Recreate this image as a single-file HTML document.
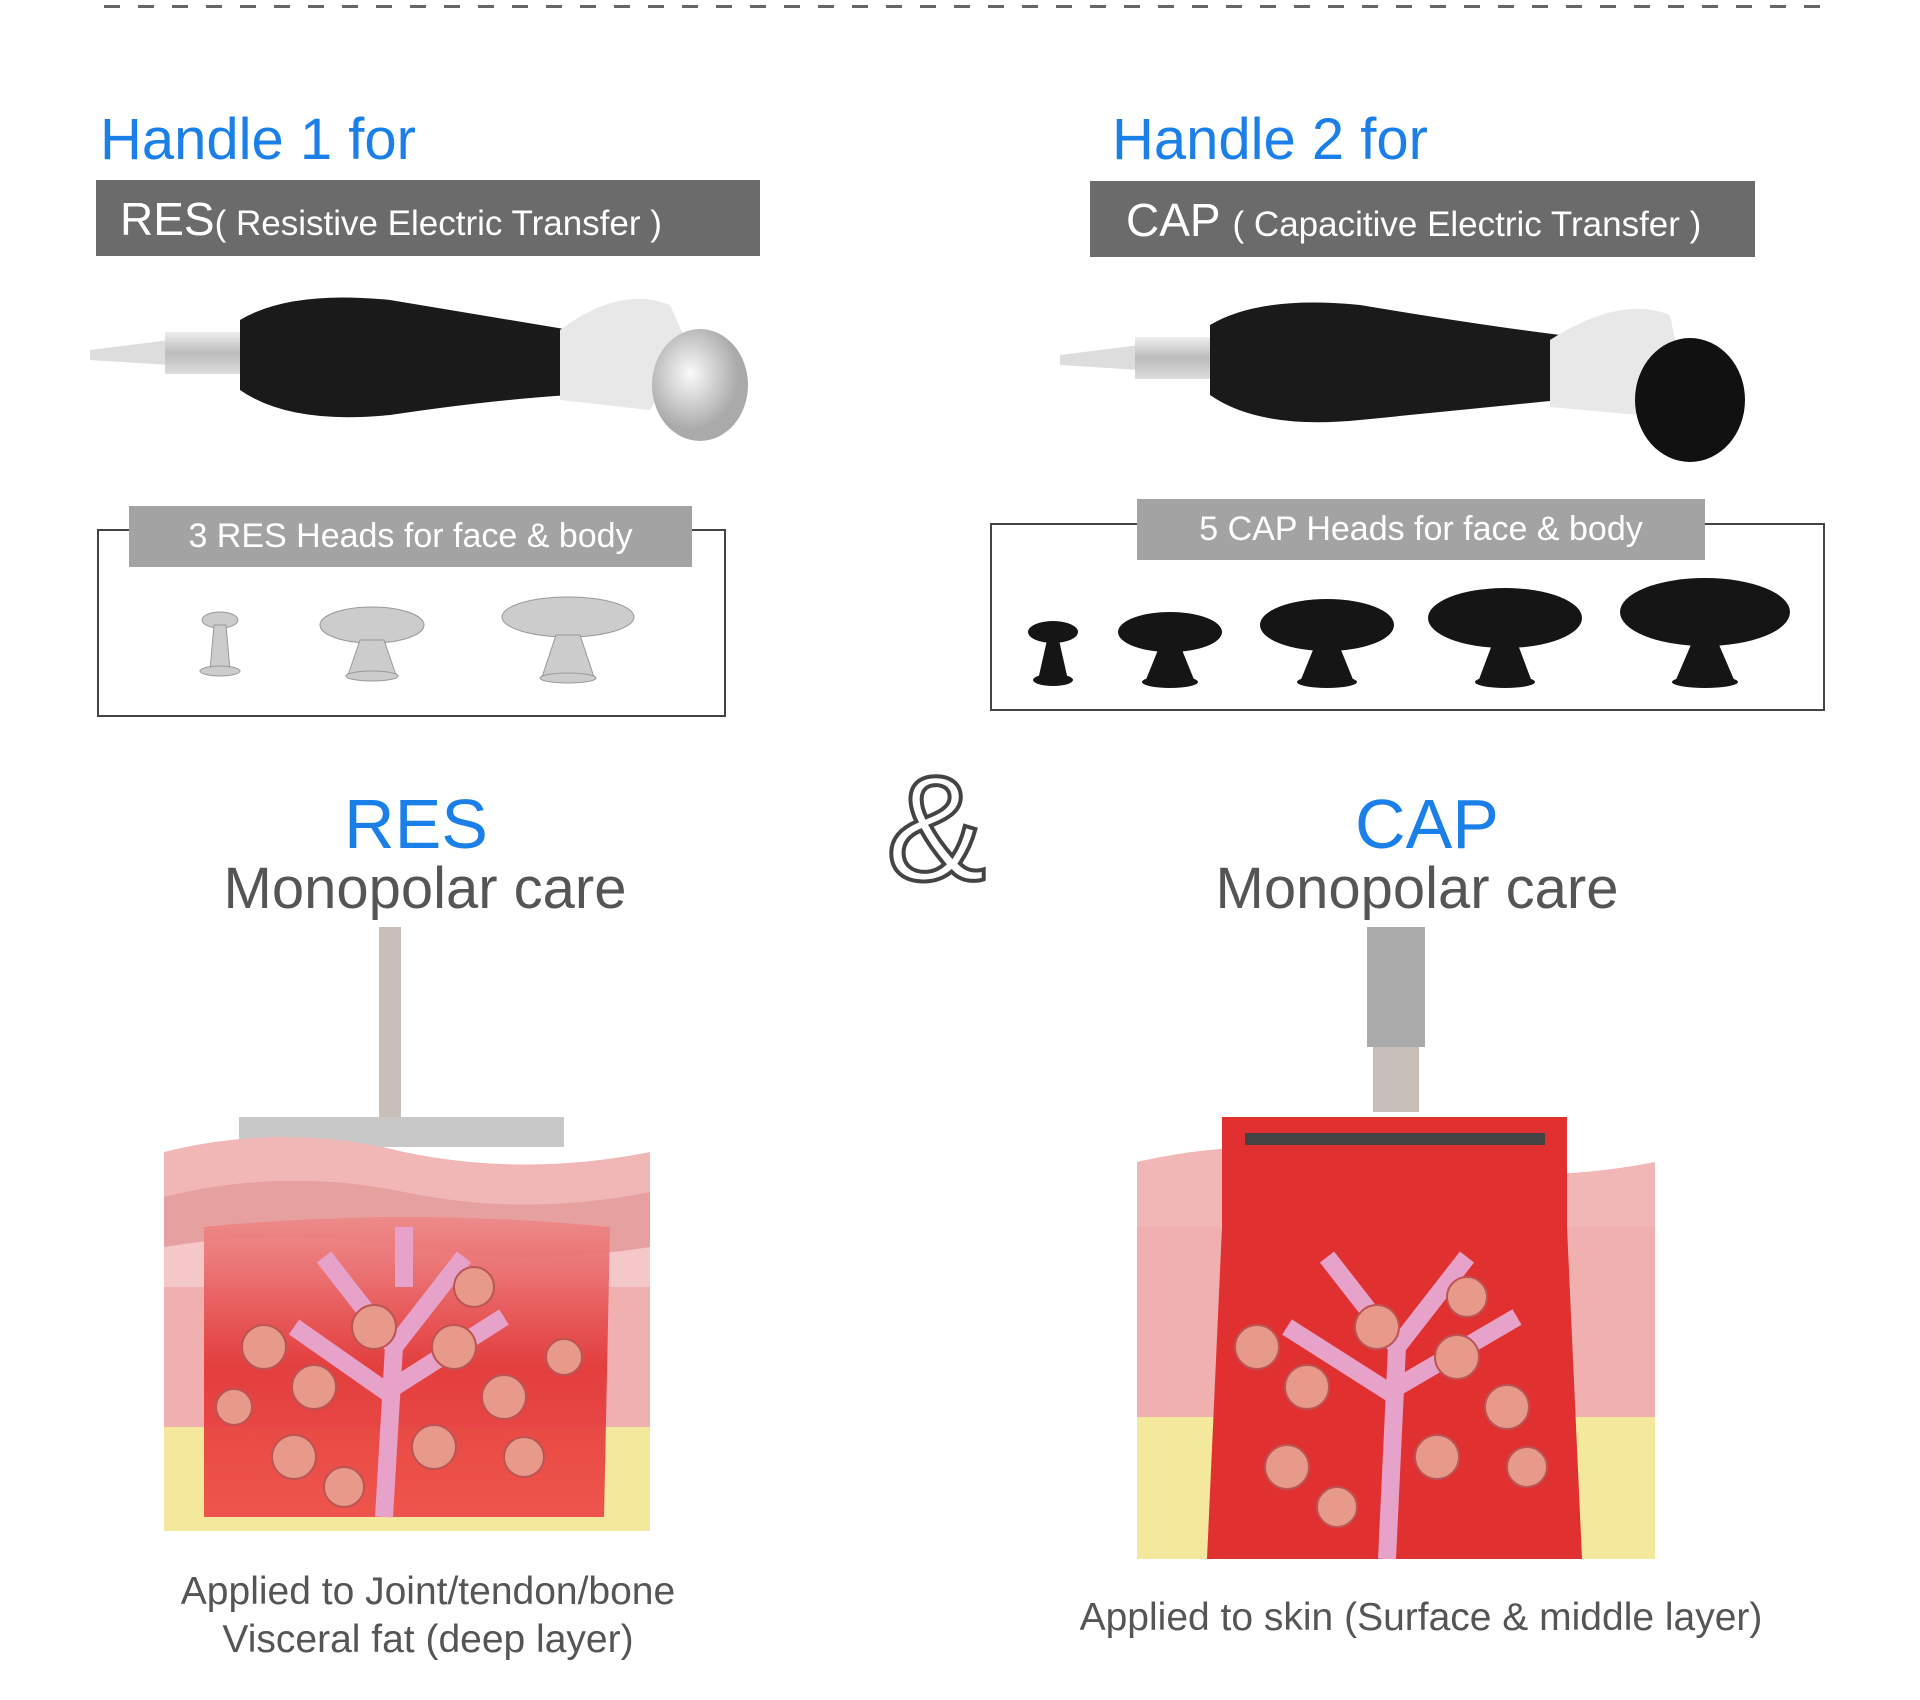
<!DOCTYPE html>
<html><head><meta charset="utf-8"><style>
html,body{margin:0;padding:0;background:#fff;}
body{width:1920px;height:1700px;position:relative;overflow:hidden;font-family:"Liberation Sans",sans-serif;}
.a{position:absolute;white-space:nowrap;}
.blue{color:#1a7fe8;}
.bar{position:absolute;background:#6b6b6b;color:#fff;}
.lbl{position:absolute;background:#a3a3a3;color:#fff;font-size:34px;text-align:center;}
.box{position:absolute;border:2px solid #444;}
.gray{color:#555;}
</style></head><body>
<div class="a" style="left:104px;top:5px;width:1727px;height:3px;background:repeating-linear-gradient(90deg,#666 0 16px,transparent 16px 34px);"></div>

<div class="a blue" style="left:100px;top:106px;font-size:58px;">Handle 1 for</div>
<div class="bar" style="left:96px;top:180px;width:664px;height:76px;"><span class="a" style="left:24px;top:12px;font-size:46px;">RES<span style="font-size:35px;">( Resistive Electric Transfer )</span></span></div>

<div class="a blue" style="left:1112px;top:106px;font-size:58px;">Handle 2 for</div>
<div class="bar" style="left:1090px;top:181px;width:665px;height:76px;"><span class="a" style="left:36px;top:12px;font-size:46px;">CAP <span style="font-size:35px;">( Capacitive Electric Transfer )</span></span></div>

<svg class="a" style="left:90px;top:290px" width="680" height="170">
<defs><linearGradient id="s" x1="0" y1="0" x2="0" y2="1"><stop offset="0" stop-color="#eee"/><stop offset=".5" stop-color="#bbb"/><stop offset="1" stop-color="#ddd"/></linearGradient>
<radialGradient id="d" cx=".4" cy=".4"><stop offset="0" stop-color="#fafafa"/><stop offset="1" stop-color="#aaa"/></radialGradient></defs>
<path d="M0 60 L80 50 L80 75 L0 70Z" fill="#ddd"/>
<rect x="75" y="42" width="80" height="42" fill="url(#s)"/>
<path d="M150 30 Q200 0 300 10 Q420 30 480 40 L480 105 Q400 110 300 125 Q200 135 150 100Z" fill="#1a1a1a"/>
<path d="M470 40 Q530 -5 580 15 L600 60 L560 120 L470 110Z" fill="#e8e8e8"/>
<ellipse cx="610" cy="95" rx="48" ry="56" fill="url(#d)"/>
</svg>
<svg class="a" style="left:1060px;top:295px" width="700" height="180">
<path d="M0 60 L80 50 L80 75 L0 70Z" fill="#ddd"/>
<rect x="75" y="42" width="80" height="42" fill="url(#s)"/>
<path d="M150 30 Q200 0 300 10 Q420 30 500 40 L500 105 Q400 115 300 125 Q200 135 150 100Z" fill="#1a1a1a"/>
<path d="M490 45 Q560 0 610 20 L620 70 L580 120 L490 112Z" fill="#e8e8e8"/>
<ellipse cx="630" cy="105" rx="55" ry="62" fill="#111"/>
</svg>

<div class="box" style="left:97px;top:529px;width:625px;height:184px;"></div>
<div class="lbl" style="left:129px;top:506px;width:563px;height:61px;line-height:61px;">3 RES Heads for face &amp; body</div>
<svg class="a" style="left:170px;top:585px" width="480" height="110">
<g fill="#ccc" stroke="#999"><ellipse cx="50" cy="35" rx="18" ry="8"/><path d="M44 40 L40 85 L60 85 L56 40Z"/><ellipse cx="50" cy="86" rx="20" ry="5"/>
<ellipse cx="202" cy="40" rx="52" ry="18"/><path d="M190 55 L178 90 L226 90 L214 55Z"/><ellipse cx="202" cy="91" rx="26" ry="5"/>
<ellipse cx="398" cy="32" rx="66" ry="20"/><path d="M386 50 L372 92 L424 92 L410 50Z"/><ellipse cx="398" cy="93" rx="28" ry="5"/></g>
</svg>

<div class="box" style="left:990px;top:523px;width:831px;height:184px;"></div>
<div class="lbl" style="left:1137px;top:499px;width:568px;height:61px;line-height:61px;">5 CAP Heads for face &amp; body</div>
<svg class="a" style="left:1010px;top:570px" width="800" height="130">
<g fill="#151515">
<ellipse cx="43" cy="62" rx="25" ry="11"/><path d="M37 70 L28 110 L58 110 L49 70Z"/><ellipse cx="43" cy="110" rx="20" ry="6"/>
<ellipse cx="160" cy="62" rx="52" ry="20"/><path d="M150 75 L135 112 L185 112 L170 75Z"/><ellipse cx="160" cy="112" rx="28" ry="6"/>
<ellipse cx="317" cy="55" rx="67" ry="26"/><path d="M305 75 L290 112 L344 112 L329 75Z"/><ellipse cx="317" cy="112" rx="30" ry="6"/>
<ellipse cx="495" cy="48" rx="77" ry="30"/><path d="M483 72 L468 112 L522 112 L507 72Z"/><ellipse cx="495" cy="112" rx="30" ry="6"/>
<ellipse cx="695" cy="42" rx="85" ry="34"/><path d="M683 70 L665 112 L725 112 L707 70Z"/><ellipse cx="695" cy="112" rx="33" ry="6"/>
</g></svg>

<svg class="a" style="left:880px;top:750px" width="130" height="150"><text x="6" y="130" font-family="Liberation Sans" font-size="150" fill="#fff" stroke="#444" stroke-width="4">&amp;</text></svg>

<div class="a blue" style="left:266px;top:784px;width:300px;text-align:center;font-size:70px;">RES</div>
<div class="a gray" style="left:175px;top:855px;width:500px;text-align:center;font-size:58px;">Monopolar care</div>
<div class="a blue" style="left:1277px;top:784px;width:300px;text-align:center;font-size:70px;">CAP</div>
<div class="a gray" style="left:1167px;top:855px;width:500px;text-align:center;font-size:58px;">Monopolar care</div>

<svg class="a" style="left:164px;top:927px" width="486" height="604">
<defs><linearGradient id="r" x1="0" y1="0" x2="0" y2="1"><stop offset="0" stop-color="#e88"/><stop offset=".5" stop-color="#e23232"/><stop offset="1" stop-color="#e44"/></linearGradient></defs>
<rect width="486" height="604" fill="#fff"/>
<rect x="215" y="0" width="22" height="190" fill="#c8bfb8"/>
<rect x="75" y="190" width="325" height="30" fill="#c8c8c8"/>
<path d="M0 225 Q120 195 240 225 Q360 250 486 225 L486 604 L0 604Z" fill="#f1b6b6"/>
<path d="M0 270 Q120 240 240 265 Q360 290 486 265 L486 604 L0 604Z" fill="#e7a0a0"/>
<path d="M0 320 Q120 300 240 320 Q360 340 486 320 L486 604 L0 604Z" fill="#f4c8c8"/>
<rect x="0" y="360" width="486" height="244" fill="#f0b0b0"/>
<rect x="0" y="500" width="486" height="104" fill="#f3e89c"/>
<path d="M40 300 Q240 280 446 300 L440 590 L40 590Z" fill="url(#r)" opacity=".9"/>
<path d="M220 590 L230 420 L160 330 M230 420 L300 330 M230 470 L130 400 M230 460 L340 390 M240 360 L240 300" stroke="#e6a2c8" stroke-width="18" fill="none"/>
<g fill="#e89a8a" stroke="#b55" stroke-width="2">
<circle cx="100" cy="420" r="22"/><circle cx="150" cy="460" r="22"/><circle cx="210" cy="400" r="22"/><circle cx="290" cy="420" r="22"/><circle cx="340" cy="470" r="22"/><circle cx="130" cy="530" r="22"/><circle cx="270" cy="520" r="22"/><circle cx="360" cy="530" r="20"/><circle cx="180" cy="560" r="20"/><circle cx="310" cy="360" r="20"/><circle cx="70" cy="480" r="18"/><circle cx="400" cy="430" r="18"/></g>
</svg>
<svg class="a" style="left:1137px;top:927px" width="518" height="632">
<rect width="518" height="632" fill="#fff"/>
<rect x="230" y="0" width="58" height="120" fill="#aaa"/>
<rect x="236" y="120" width="46" height="65" fill="#c8bfb8"/>
<path d="M0 235 Q130 205 260 235 Q390 260 518 235 L518 632 L0 632Z" fill="#f1b6b6"/>
<rect x="0" y="300" width="518" height="190" fill="#f0b0b0"/>
<rect x="0" y="490" width="518" height="142" fill="#f3e89c"/>
<path d="M85 190 L430 190 L430 300 L445 632 L70 632 L85 300Z" fill="#e03030"/>
<rect x="108" y="206" width="300" height="12" fill="#444"/>
<path d="M250 632 L260 420 L190 330 M260 420 L330 330 M260 470 L150 400 M260 460 L380 390" stroke="#e6a2c8" stroke-width="18" fill="none"/>
<g fill="#e89a8a" stroke="#b55" stroke-width="2">
<circle cx="120" cy="420" r="22"/><circle cx="170" cy="460" r="22"/><circle cx="240" cy="400" r="22"/><circle cx="320" cy="430" r="22"/><circle cx="370" cy="480" r="22"/><circle cx="150" cy="540" r="22"/><circle cx="300" cy="530" r="22"/><circle cx="390" cy="540" r="20"/><circle cx="200" cy="580" r="20"/><circle cx="330" cy="370" r="20"/></g>
</svg>

<div class="a gray" style="left:78px;top:1568px;width:700px;text-align:center;font-size:39px;line-height:48px;">Applied to Joint/tendon/bone<br>Visceral fat (deep layer)</div>
<div class="a gray" style="left:1021px;top:1596px;width:800px;text-align:center;font-size:39px;">Applied to skin (Surface &amp; middle layer)</div>
</body></html>
